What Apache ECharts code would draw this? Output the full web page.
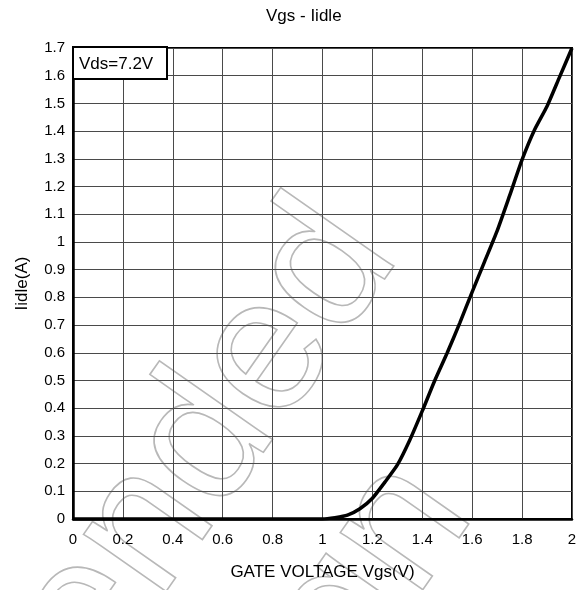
<!DOCTYPE html>
<html><head><meta charset="utf-8">
<script src="https://cdn.jsdelivr.net/npm/echarts@6/dist/echarts.min.js"></script>
<style>html,body{margin:0;padding:0;background:#fff}#c{width:585px;height:590px}</style>
</head><body><div id="c"></div>
<script>
const titleText = 'Vgs - Iidle';
const xName = 'GATE VOLTAGE Vgs(V)';
const yName = 'Iidle(A)';
const noteText = 'Vds=7.2V';
const watermark1 = 'Not Recommended';
const watermark2 = 'for New Design';
const vgs = [0, 0.2, 0.4, 0.6, 0.8, 1.0, 1.05, 1.1, 1.15, 1.2, 1.25, 1.3, 1.35, 1.4, 1.45, 1.5, 1.55, 1.6, 1.65, 1.7, 1.75, 1.8, 1.85, 1.9, 1.95, 2.0];
const iidle = [0, 0, 0, 0, 0, 0, 0.005, 0.014, 0.037, 0.075, 0.133, 0.195, 0.285, 0.39, 0.5, 0.6, 0.707, 0.82, 0.93, 1.04, 1.167, 1.297, 1.405, 1.49, 1.595, 1.7];

const FONT = '"Liberation Sans", Arial, sans-serif';
const chart = echarts.init(document.getElementById('c'), null, {renderer: 'canvas'});
const wmStyle = {fill: 'none', stroke: '#b8b8b8', lineWidth: 1.6, fontSize: 190, fontFamily: FONT, align: 'right', verticalAlign: 'middle'};
chart.setOption({
  animation: false,
  backgroundColor: '#fff',
  title: {text: titleText, left: 261, top: 3, textStyle: {fontFamily: FONT, fontSize: 17, fontWeight: 'normal', color: '#000'}},
  grid: {left: 73, right: 13, top: 48, bottom: 71, show: true, borderColor: '#000', borderWidth: 2, backgroundColor: 'transparent'},
  xAxis: {
    type: 'value', min: 0, max: 2, interval: 0.2,
    name: xName, nameLocation: 'middle', nameGap: 45,
    nameTextStyle: {fontFamily: FONT, fontSize: 17, color: '#000'},
    axisLine: {show: true, lineStyle: {color: '#000', width: 2.5}},
    axisTick: {show: false},
    axisLabel: {fontFamily: FONT, fontSize: 15, color: '#000', margin: 13},
    splitLine: {show: true, lineStyle: {color: '#4a4a4a', width: 1}}
  },
  yAxis: {
    type: 'value', min: 0, max: 1.7, interval: 0.1,
    name: yName, nameLocation: 'middle', nameGap: 42, nameRotate: 90,
    nameTextStyle: {fontFamily: FONT, fontSize: 17, color: '#000'},
    axisLine: {show: true, lineStyle: {color: '#000', width: 2.5}},
    axisTick: {show: false},
    axisLabel: {fontFamily: FONT, fontSize: 15, color: '#000', margin: 8},
    splitLine: {show: true, lineStyle: {color: '#4a4a4a', width: 1}}
  },
  series: [{
    type: 'line', data: vgs.map((v, i) => [v, iidle[i]]),
    showSymbol: false, smooth: 0.2, z: 5,
    lineStyle: {color: '#000', width: 3.5}
  }]
});
const tl = chart.convertToPixel({gridIndex: 0}, [0, 1.7]);
chart.setOption({
  graphic: [
    {type: 'text', silent: true, z: -10, x: 358, y: 226, rotation: 0.96, style: Object.assign({text: watermark1}, wmStyle)},
    {type: 'text', silent: true, z: -10, x: 433, y: 484, rotation: 0.96, style: Object.assign({text: watermark2}, wmStyle)},
    {type: 'rect', z: 10, shape: {x: tl[0], y: tl[1] - 1, width: 94, height: 32}, style: {fill: '#fff', stroke: '#000', lineWidth: 2}},
    {type: 'text', z: 11, x: tl[0] + 6, y: tl[1] + 16, style: {text: noteText, fontFamily: FONT, fontSize: 17, fill: '#000', verticalAlign: 'middle'}}
  ]
});
</script></body></html>
